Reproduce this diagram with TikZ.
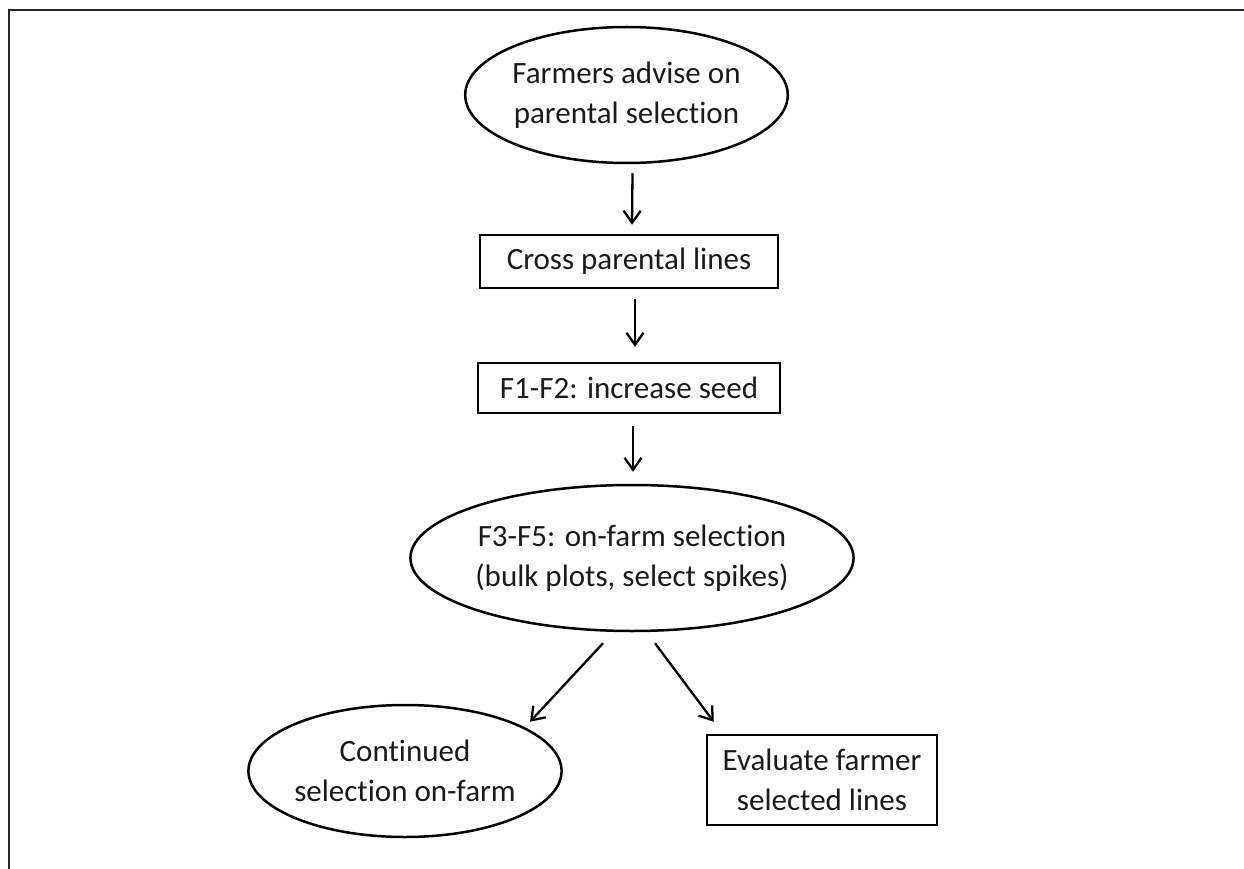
\documentclass[tikz,border=0pt]{standalone}
\usepackage{fontspec}
\setmainfont{Carlito}[Ligatures=NoCommon]
\usetikzlibrary{shapes.geometric,arrows.meta,calc}
\definecolor{ink}{HTML}{1A1A1A}
\begin{document}
\begin{tikzpicture}[x=1pt,y=-1pt,
  every node/.style={font=\fontsize{31}{39.5}\selectfont, text=ink, align=center, inner sep=0pt},
  oval/.style={ellipse, draw=black, line width=2.5pt},
  rbox/.style={rectangle, draw=black, line width=2.5pt},
  arr/.style={-{Straight Barb[length=12pt,width=17pt]}, line width=2.3pt, draw=black},
  frame/.style={line width=2.3pt, draw=black!85}]
\useasboundingbox (0,0) rectangle (1244,869);
\draw[frame] (9,869) -- (9,10) -- (1244,10);

\node[oval, minimum width=277pt, minimum height=136pt] (e1) at (626.5,95) {Farmers advise on\\parental selection};
\node[rbox, minimum width=298pt, minimum height=53pt] (b1) at (629,261.5) {Cross parental lines};
\node[rbox, minimum width=302pt, minimum height=50pt] (b2) at (629,388) {F1-F2: increase seed};
\node[oval, minimum width=394pt, minimum height=146pt] (e2) at (632,558) {F3-F5: on-farm selection\\(bulk plots, select spikes)};
\node[oval, minimum width=296pt, minimum height=132pt] (e3) at (405,771) {Continued\\selection on-farm};
\node[rbox, minimum width=230pt, minimum height=90pt] (b3) at (822,780) {Evaluate farmer\\selected lines};

\draw[arr] ($(e1.south)+(6,9)$) -- ($(b1.north)+(3,-9)$);
\draw[arr] ($(b1.south)+(6,10)$) -- ($(b2.north)+(6,-15)$);
\draw[arr] ($(b2.south)+(4,12)$) -- ($(e2.north)+(1,-12)$);
\draw[arr] ($(e2.south)+(-29,11)$) -- ($(e3.north)+(125,18)$);
\draw[arr] ($(e2.south)+(23,11)$) -- ($(b3.north west)+(8,-12)$);
\end{tikzpicture}
\end{document}
